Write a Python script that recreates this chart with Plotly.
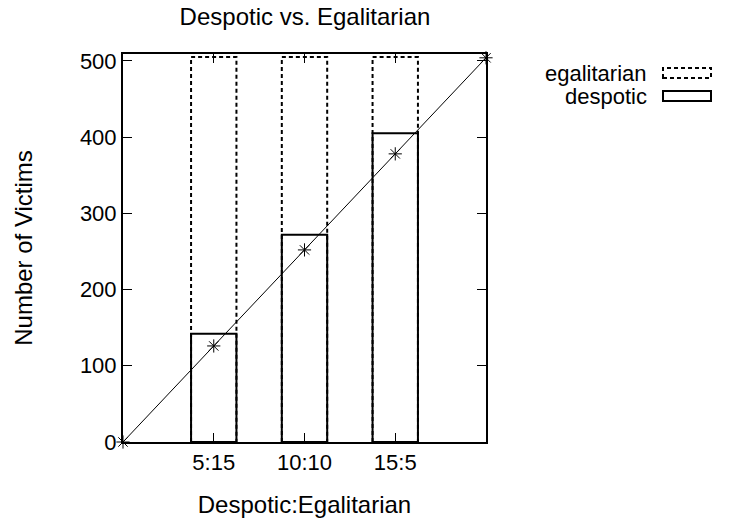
import plotly.graph_objects as go

# Scenario labels and victim counts
categories = ["5:15", "10:10", "15:5"]
egalitarian = [505, 505, 505]
despotic = [142, 272, 405]

# Reference diagonal (points at the axis ends and each category)
line_x = [0, 1, 2, 3, 4]
line_y = [0, 126, 252, 378, 504]

BAR_WIDTH = 0.5
FONT = "Liberation Sans, Arial, sans-serif"
TICK_FS = 22
TEXT_FS = 24
KEY_FS = 22


def box_path(values, width):
    """Outline of each bar as one closed path, bars separated by None."""
    xs, ys = [], []
    for i, v in enumerate(values, start=1):
        l, r = i - width / 2, i + width / 2
        xs += [l, l, r, r, l, None]
        ys += [0, v, v, 0, 0, None]
    return xs, ys


fig = go.Figure()

ex, ey = box_path(egalitarian, BAR_WIDTH)
fig.add_trace(go.Scatter(
    x=ex, y=ey, mode="lines", name="egalitarian", showlegend=False,
    line=dict(color="black", width=2, dash="4px,3px"), hoverinfo="skip",
))

dx, dy = box_path(despotic, BAR_WIDTH)
fig.add_trace(go.Scatter(
    x=dx, y=dy, mode="lines", name="despotic", showlegend=False,
    line=dict(color="black", width=2), hoverinfo="skip",
))

fig.add_trace(go.Scatter(
    x=line_x, y=line_y, mode="lines+markers", showlegend=False,
    line=dict(color="black", width=1),
    marker=dict(symbol="asterisk-open", size=11, color="black",
                line=dict(color="black", width=1)),
    cliponaxis=False,
))

# Key: labels on the left, box samples on the right
key = [("egalitarian", "dash"), ("despotic", "solid")]
for k, (label, dash) in enumerate(key):
    yc = 1 - (73 - 54 + k * 23) / 388
    fig.add_annotation(
        xref="paper", yref="paper", x=(649 - 123) / 363, y=yc,
        text=label, showarrow=False, xanchor="right", yanchor="middle",
        font=dict(family=FONT, size=KEY_FS, color="black"),
    )
    fig.add_shape(
        type="rect", xref="paper", yref="paper",
        x0=(663 - 123) / 363, x1=(711 - 123) / 363,
        y0=yc - 5 / 388, y1=yc + 5 / 388,
        line=dict(color="black", width=2, dash="4px,3px" if dash == "dash" else "solid"),
    )

axis_common = dict(
    showline=True, linecolor="black", linewidth=2, mirror="ticks",
    ticks="inside", ticklen=9, tickwidth=1, tickcolor="black",
    showgrid=False, zeroline=False, automargin=False,
    tickfont=dict(family=FONT, size=TICK_FS, color="black"),
)

fig.update_layout(
    width=739, height=520,
    margin=dict(l=123, r=253, t=54, b=78),
    paper_bgcolor="white", plot_bgcolor="white",
    title=dict(text="Despotic vs. Egalitarian", x=(305 / 739), xanchor="center",
               y=1 - 17 / 520, yanchor="middle",
               font=dict(family=FONT, size=TEXT_FS, color="black")),
    xaxis=dict(range=[0, 4], tickvals=[1, 2, 3], ticktext=categories,
               title=dict(text="Despotic:Egalitarian", standoff=22,
                          font=dict(family=FONT, size=TEXT_FS, color="black")),
               **axis_common),
    yaxis=dict(range=[0, 509], tickvals=[0, 100, 200, 300, 400, 500],
               title=dict(text="Number of Victims", standoff=40,
                          font=dict(family=FONT, size=TEXT_FS, color="black")),
               **axis_common),
    showlegend=False,
)

fig.write_html("out.html")
